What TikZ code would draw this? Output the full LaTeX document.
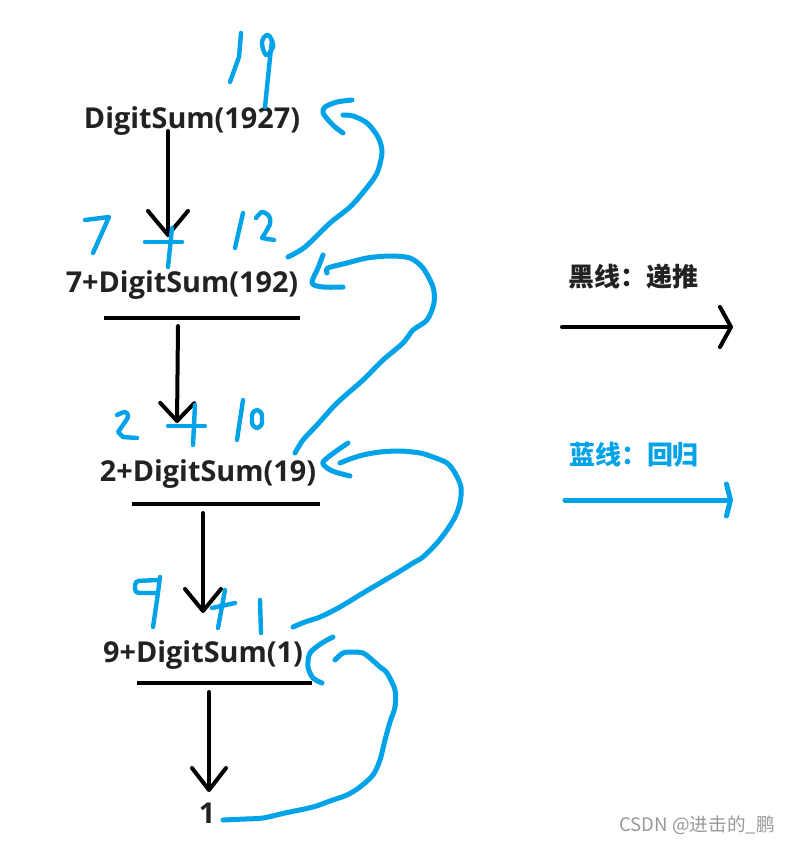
\documentclass[tikz,border=0pt]{standalone}
\usepackage{fontspec}
\setmainfont{Open Sans}
\newfontfamily\cjk{Noto Sans CJK SC}
\usetikzlibrary{arrows.meta}
\definecolor{inkblue}{RGB}{0,162,232}
\definecolor{textgray}{RGB}{34,34,34}
\tikzset{
  expr/.style={font=\fontsize{14.4}{17}\selectfont\bfseries, text=textgray, inner sep=0pt},
  legend/.style={font=\cjk\fontsize{13}{15}\selectfont\bfseries, inner sep=0pt},
  pushline/.style={line width=2pt, line cap=round, -{Straight Barb[length=12pt,width=20pt,round]}},
  ink/.style={draw=inkblue, line width=2.2pt, line cap=round, line join=round},
  backline/.style={ink, line width=2.5pt},
}

\begin{document}
\begin{tikzpicture}[x=0.5pt, y=-0.5pt]
\useasboundingbox[fill=white] (0,0) rectangle (791,843);
\node[expr] (call1927) at (192,121) {DigitSum(1927)};
\node[expr] (call192) at (182,285) {7+DigitSum(192)};
\node[expr] (call19) at (208,474) {2+DigitSum(19)};
\node[expr] (call1) at (203,655) {9+DigitSum(1)};
\node[expr] (base) at (207,813) {1};
\node[legend, text=textgray] (legpush) at (633,277) {黑线：递推};
\node[legend, text=inkblue] (legback) at (634,455) {蓝线：回归};
\node[font=\cjk\fontsize{9.3}{11}\selectfont, text=gray!80, inner sep=0pt] (wmark) at (697,825) {CSDN @进击的\_鹏};
\draw[line width=2pt] (104,318) -- (300,318);
\draw[line width=2pt] (132,504) -- (320,504);
\draw[line width=2pt] (137,683) -- (312,683);
\coordinate (s1) at (168,131);
\coordinate (e1) at (168,237);
\coordinate (s2) at (178,326);
\coordinate (e2) at (177,423);
\coordinate (s3) at (203,513);
\coordinate (e3) at (203,613);
\coordinate (s4) at (209,692);
\coordinate (e4) at (209,792);
\draw[pushline] (s1) -- (e1);
\draw[pushline, -{Straight Barb[length=9pt,width=17pt,round]}] (s2) -- (e2);
\draw[pushline, -{Straight Barb[length=11pt,width=18pt,round]}] (s3) -- (e3);
\draw[pushline, -{Straight Barb[length=11pt,width=17pt,round]}] (s4) -- (e4);
\coordinate (k1) at (562,327);
\coordinate (k2) at (733,327);
\coordinate (b1) at (565,500);
\coordinate (b2) at (733,500);
\draw[pushline, -{Straight Barb[length=5.5pt,width=20pt,round]}] (k1) -- (k2);
\draw[pushline, draw=inkblue, line width=2.5pt, -{Straight Barb[length=2pt,width=16pt,round]}] (b1) -- (b2);
\draw[backline] plot[smooth, tension=0.5] coordinates {(288,257) (305,247) (330,223) (350,207) (365,190) (377,173) (382,152) (378,137) (367,123) (353,116) (343,115)};
\draw[backline] plot[smooth, tension=0.5] coordinates {(352,100) (337,102) (325,107) (323,113) (330,122) (335,127) (343,133)};
\draw[backline] plot[smooth, tension=0.5] coordinates {(295,453) (303,440) (317,425) (337,403) (363,380) (383,360) (403,343) (413,330) (427,320) (434,303) (433,287) (423,268) (410,258) (390,256) (367,258) (347,263) (328,268) (327,273)};
\draw[backline] plot[smooth, tension=0.5] coordinates {(323,255) (318,268) (312,283) (323,287) (343,287)};
\draw[backline] plot[smooth, tension=0.5] coordinates {(293,627) (305,622) (320,617) (340,607) (363,593) (380,583) (397,573) (413,563) (423,557) (437,543) (447,530) (455,517) (460,503) (461,487) (455,473) (447,463) (433,457) (420,453) (400,451) (380,452) (363,455) (350,459) (340,463)};
\draw[backline] plot[smooth, tension=0.5] coordinates {(348,443) (335,452) (323,462) (327,468) (335,472) (350,476)};
\draw[backline] plot[smooth, tension=0.5] coordinates {(223,820) (245,819) (263,818) (285,813) (313,807) (330,801) (347,795) (360,787) (373,775) (380,760) (385,740) (390,722) (395,707) (395,690) (387,673) (380,667) (370,658) (363,653) (353,652) (343,653) (335,660)};
\draw[backline] plot[smooth, tension=0.5] coordinates {(333,637) (322,643) (310,653) (308,667) (313,678) (322,683)};
\draw[ink] (241,33) -- (239,57) -- (230,82);
\draw[ink] plot[smooth cycle, tension=0.7] coordinates {(273,44) (268,35) (262,42) (266,55) (272,49)};
\draw[ink] (272,40) -- (270,58) -- (265,107);
\draw[ink] (85,220) -- (109,217) -- (93,253);
\draw[ink] (145,242) -- (182,242);
\draw[ink] (172,228) -- (168,267);
\draw[ink] (243,213) -- (235,248);
\draw[ink] plot[smooth, tension=0.5] coordinates {(256,218) (262,212) (269,216) (270,224) (262,238)} -- (274,240);
\draw[ink] plot[smooth, tension=0.5] coordinates {(117,415) (125,412) (128,417) (118,432)} -- (123,437) -- (137,438);
\draw[ink] (168,426) -- (205,426);
\draw[ink] (195,405) -- (193,445);
\draw[ink] (243,400) -- (237,440);
\draw[ink, rounded corners=3pt] (252,410) rectangle (262,428);
\draw[ink, rounded corners=2pt] (158,580) -- (135,581) -- (135,593) -- (158,593);
\draw[ink] (160,577) -- (157,600) -- (153,627);
\draw[ink] (225,590) -- (218,628);
\draw[ink] (212,608) -- (235,603);
\draw[ink] (260,600) -- (261,633);
\end{tikzpicture}
\end{document}
